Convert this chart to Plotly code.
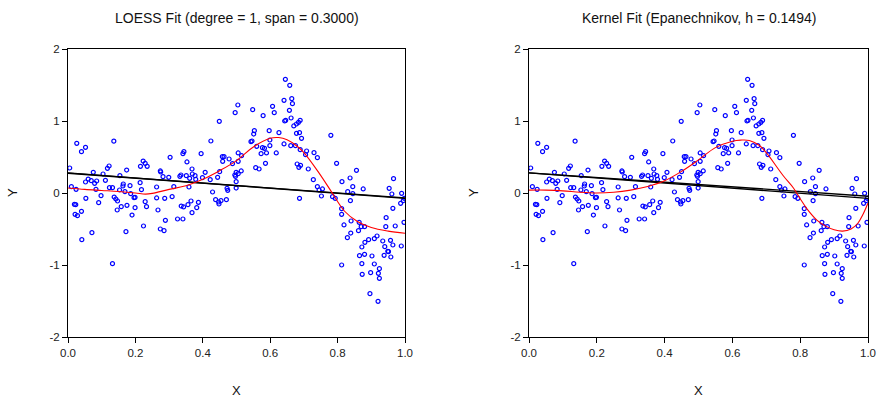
import plotly.graph_objects as go

# Observed sample (x, y)
x_obs = [
    0.026, 0.136, 0.040, 0.052, 0.005, 0.223, 0.122, 0.117, 0.215, 0.235,
    0.229, 0.303, 0.274, 0.275, 0.282, 0.299, 0.075, 0.104, 0.060, 0.052,
    0.069, 0.085, 0.079, 0.111, 0.154, 0.174, 0.164, 0.163, 0.214, 0.010,
    0.024, 0.123, 0.132, 0.083, 0.153, 0.169, 0.184, 0.218, 0.263, 0.314,
    0.098, 0.053, 0.137, 0.142, 0.147, 0.186, 0.196, 0.199, 0.146, 0.158,
    0.175, 0.199, 0.233, 0.229, 0.263, 0.287, 0.309, 0.019, 0.023, 0.040,
    0.021, 0.028, 0.091, 0.190, 0.267, 0.289, 0.224, 0.071, 0.172, 0.274,
    0.285, 0.041, 0.132,
    0.645, 0.658, 0.641, 0.664, 0.666, 0.504, 0.548, 0.496, 0.612, 0.607,
    0.579, 0.657, 0.662, 0.643, 0.646, 0.670, 0.449, 0.553, 0.551, 0.597,
    0.626, 0.543, 0.546, 0.424, 0.344, 0.341, 0.395, 0.599, 0.560, 0.577,
    0.583, 0.599, 0.641, 0.661, 0.573, 0.589, 0.618, 0.505, 0.515, 0.458,
    0.463, 0.478, 0.459, 0.488, 0.505, 0.353, 0.586, 0.557, 0.567, 0.368,
    0.407, 0.514, 0.499, 0.495, 0.505, 0.497, 0.450, 0.444, 0.335, 0.332,
    0.351, 0.369, 0.377, 0.379, 0.361, 0.399, 0.422, 0.359, 0.429, 0.472,
    0.474, 0.499, 0.499, 0.365, 0.387, 0.438, 0.447, 0.454, 0.470, 0.448,
    0.336, 0.343, 0.356, 0.382, 0.368, 0.325, 0.341,
    0.678, 0.684, 0.689, 0.678, 0.687, 0.693, 0.780, 0.675, 0.689, 0.708,
    0.730, 0.740, 0.705, 0.680, 0.690, 0.685, 0.713, 0.797, 0.856, 0.813,
    0.837, 0.728, 0.740, 0.745, 0.755, 0.752, 0.687, 0.845, 0.830, 0.876,
    0.845, 0.838, 0.785, 0.793, 0.812, 0.812, 0.819, 0.840, 0.864, 0.870,
    0.862, 0.880, 0.839, 0.829, 0.881, 0.892, 0.909, 0.917, 0.934, 0.957,
    0.964, 0.940, 0.943, 0.971, 0.997, 0.989, 0.949, 0.951, 0.958, 0.872,
    0.865, 0.880, 0.902, 0.938, 0.872, 0.909, 0.924, 0.898, 0.921, 0.873,
    0.924, 0.812, 0.896, 0.920, 0.966, 0.953, 0.961, 0.990, 0.998, 0.995,
    0.987, 0.964, 0.944,
]
y_obs = [
    0.690, 0.720, 0.574, 0.634, 0.347, 0.444, 0.375, 0.343, 0.370, 0.370,
    0.412, 0.495, 0.306, 0.292, 0.227, 0.218, 0.287, 0.264, 0.194, 0.153,
    0.171, 0.167, 0.134, 0.176, 0.241, 0.319, 0.125, 0.097, 0.144, 0.088,
    0.051, 0.074, 0.074, 0.051, 0.042, 0.019, 0.102, 0.046, 0.083, 0.088,
    -0.037, -0.074, -0.056, -0.083, -0.111, -0.009, -0.065, -0.060, -0.236, -0.190,
    -0.171, -0.204, -0.190, -0.120, -0.069, -0.074, -0.051, -0.157, -0.162, -0.255,
    -0.296, -0.315, -0.134, -0.306, -0.236, -0.380, -0.458, -0.551, -0.537, -0.500,
    -0.523, -0.648, -0.981,
    1.579, 1.495, 1.287, 1.310, 1.241, 1.222, 1.157, 1.116, 1.116, 1.204,
    1.074, 1.148, 1.042, 1.000, 1.009, 0.931, 0.995, 0.866, 0.819, 0.866,
    0.838, 0.713, 0.722, 0.722, 0.574, 0.546, 0.546, 0.736, 0.648, 0.630,
    0.620, 0.657, 0.681, 0.657, 0.546, 0.556, 0.556, 0.556, 0.519, 0.505,
    0.505, 0.472, 0.440, 0.407, 0.440, 0.431, 0.412, 0.352, 0.333, 0.333,
    0.287, 0.306, 0.287, 0.250, 0.269, 0.231, 0.296, 0.218, 0.250, 0.231,
    0.241, 0.264, 0.241, 0.190, 0.204, 0.213, 0.185, 0.083, 0.014, 0.065,
    0.037, 0.069, 0.157, -0.111, -0.130, -0.093, -0.125, -0.106, -0.093, -0.153,
    -0.181, -0.194, -0.162, -0.204, -0.273, -0.361, -0.361,
    0.958, 0.981, 1.009, 0.829, 0.838, 0.759, 0.801, 0.657, 0.602, 0.583,
    0.560, 0.491, 0.532, 0.403, 0.384, 0.356, 0.333, 0.412, 0.315, 0.157,
    0.208, 0.185, 0.088, 0.042, 0.056, -0.042, -0.074, 0.088, 0.019, 0.056,
    -0.009, -0.106, -0.051, -0.074, -0.218, -0.296, -0.444, -0.389, -0.407, -0.468,
    -0.523, -0.468, -0.556, -0.620, -0.685, -0.648, -0.634, -0.597, -0.667, -0.657,
    -0.722, -0.745, -0.468, -0.458, -0.407, -0.736, -0.810, -0.815, -0.889, -0.750,
    -0.870, -0.852, -0.875, -0.866, -0.981, -0.986, -1.051, -1.106, -1.116, -1.130,
    -1.185, -1.000, -1.398, -1.505, 0.199, 0.065, -0.014, -0.005, -0.074, -0.106,
    -0.144, -0.213, -0.343,
]

# LOESS smooth (degree 1, span 0.3)
loess_x = [0.0, 0.05, 0.10, 0.15, 0.20, 0.23, 0.25, 0.30, 0.35, 0.40, 0.45, 0.50,
           0.55, 0.60, 0.625, 0.65, 0.68, 0.70, 0.74, 0.78, 0.82, 0.86, 0.90,
           0.95, 1.0]
loess_y = [0.07, 0.05, 0.035, 0.02, 0.0, -0.015, -0.005, 0.05, 0.10, 0.19, 0.31,
           0.45, 0.64, 0.76, 0.77, 0.74, 0.65, 0.56, 0.31, 0.03, -0.25, -0.40,
           -0.48, -0.53, -0.56]

# Epanechnikov kernel smooth (h = 0.1494)
kern_x = [0.0, 0.05, 0.10, 0.15, 0.20, 0.25, 0.30, 0.35, 0.40, 0.45, 0.50, 0.55,
          0.60, 0.625, 0.65, 0.68, 0.70, 0.75, 0.78, 0.80, 0.82, 0.85, 0.875,
          0.90, 0.925, 0.95, 0.97, 0.985, 1.0]
kern_y = [0.04, 0.04, 0.03, 0.01, 0.0, 0.01, 0.04, 0.09, 0.17, 0.30, 0.46, 0.63,
          0.72, 0.735, 0.73, 0.66, 0.56, 0.24, 0.07, -0.08, -0.22, -0.38, -0.46,
          -0.51, -0.53, -0.50, -0.42, -0.30, -0.14]

# Straight-line fits (end points)
line_x = [0.0, 1.0]
line_a_y = [0.28, -0.075]
line_b_left_y = [0.275, -0.068]
line_b_right_y = [0.28, -0.045]

titles = ["LOESS Fit (degree = 1, span = 0.3000)",
          "Kernel Fit (Epanechnikov, h = 0.1494)"]
x_ticks = [0.0, 0.2, 0.4, 0.6, 0.8, 1.0]
x_tick_text = ["0.0", "0.2", "0.4", "0.6", "0.8", "1.0"]
y_ticks = [-2, -1, 0, 1, 2]
y_tick_text = ["-2", "-1", "0", "1", "2"]

W, H = 877, 397
FONT = "Liberation Sans, Arial, sans-serif"

fig = go.Figure()

panels = [
    ("x", "y", loess_x, loess_y, line_b_left_y),
    ("x2", "y2", kern_x, kern_y, line_b_right_y),
]
for xa, ya, cx, cy, lb in panels:
    fig.add_trace(go.Scatter(x=x_obs, y=y_obs, mode="markers", xaxis=xa, yaxis=ya,
                             marker=dict(symbol="circle-open", size=4, color="#0000ff",
                                         line=dict(width=1.2, color="#0000ff")),
                             showlegend=False, hoverinfo="skip"))
    fig.add_trace(go.Scatter(x=line_x, y=line_a_y, mode="lines", xaxis=xa, yaxis=ya,
                             line=dict(color="black", width=1.4), showlegend=False))
    fig.add_trace(go.Scatter(x=line_x, y=lb, mode="lines", xaxis=xa, yaxis=ya,
                             line=dict(color="black", width=1.4), showlegend=False))
    fig.add_trace(go.Scatter(x=cx, y=cy, mode="lines", xaxis=xa, yaxis=ya,
                             line=dict(color="#ff0000", width=1.1, shape="spline"),
                             showlegend=False))

y_dom = [(H - 337) / H, (H - 49) / H]
x_dom1 = [68 / W, 405 / W]
x_dom2 = [529 / W, 868 / W]

axis_common = dict(showgrid=False, zeroline=False, showline=True, linecolor="black",
                   linewidth=1, mirror=True, ticks="outside", ticklen=5,
                   tickcolor="black", automargin=False,
                   tickfont=dict(family=FONT, size=11.5, color="#222"))

fig.update_layout(
    width=W, height=H,
    margin=dict(l=0, r=0, t=0, b=0),
    paper_bgcolor="white", plot_bgcolor="white",
    font=dict(family=FONT, color="#222"),
    xaxis=dict(domain=x_dom1, range=[0, 1], tickvals=x_ticks, ticktext=x_tick_text,
               anchor="y", **axis_common),
    yaxis=dict(domain=y_dom, range=[-2, 2], tickvals=y_ticks, ticktext=y_tick_text,
               anchor="x", **axis_common),
    xaxis2=dict(domain=x_dom2, range=[0, 1], tickvals=x_ticks, ticktext=x_tick_text,
                anchor="y2", **axis_common),
    yaxis2=dict(domain=y_dom, range=[-2, 2], tickvals=y_ticks, ticktext=y_tick_text,
                anchor="x2", **axis_common),
)

annos = []
for dom, title in zip([x_dom1, x_dom2], titles):
    cx = (dom[0] + dom[1]) / 2
    annos.append(dict(text=title, x=cx, y=1 - 18 / H, xref="paper", yref="paper",
                      showarrow=False, xanchor="center", yanchor="middle",
                      font=dict(family=FONT, size=14, color="#111")))
    annos.append(dict(text="X", x=cx, y=1 - 390 / H, xref="paper", yref="paper",
                      showarrow=False, xanchor="center", yanchor="middle",
                      font=dict(family=FONT, size=13, color="#111")))
for ypx in [12, 473]:
    annos.append(dict(text="Y", x=ypx / W, y=1 - 193 / H, xref="paper", yref="paper",
                      showarrow=False, textangle=-90, xanchor="center", yanchor="middle",
                      font=dict(family=FONT, size=13, color="#111")))
fig.update_layout(annotations=annos)

fig.write_html("out.html")
